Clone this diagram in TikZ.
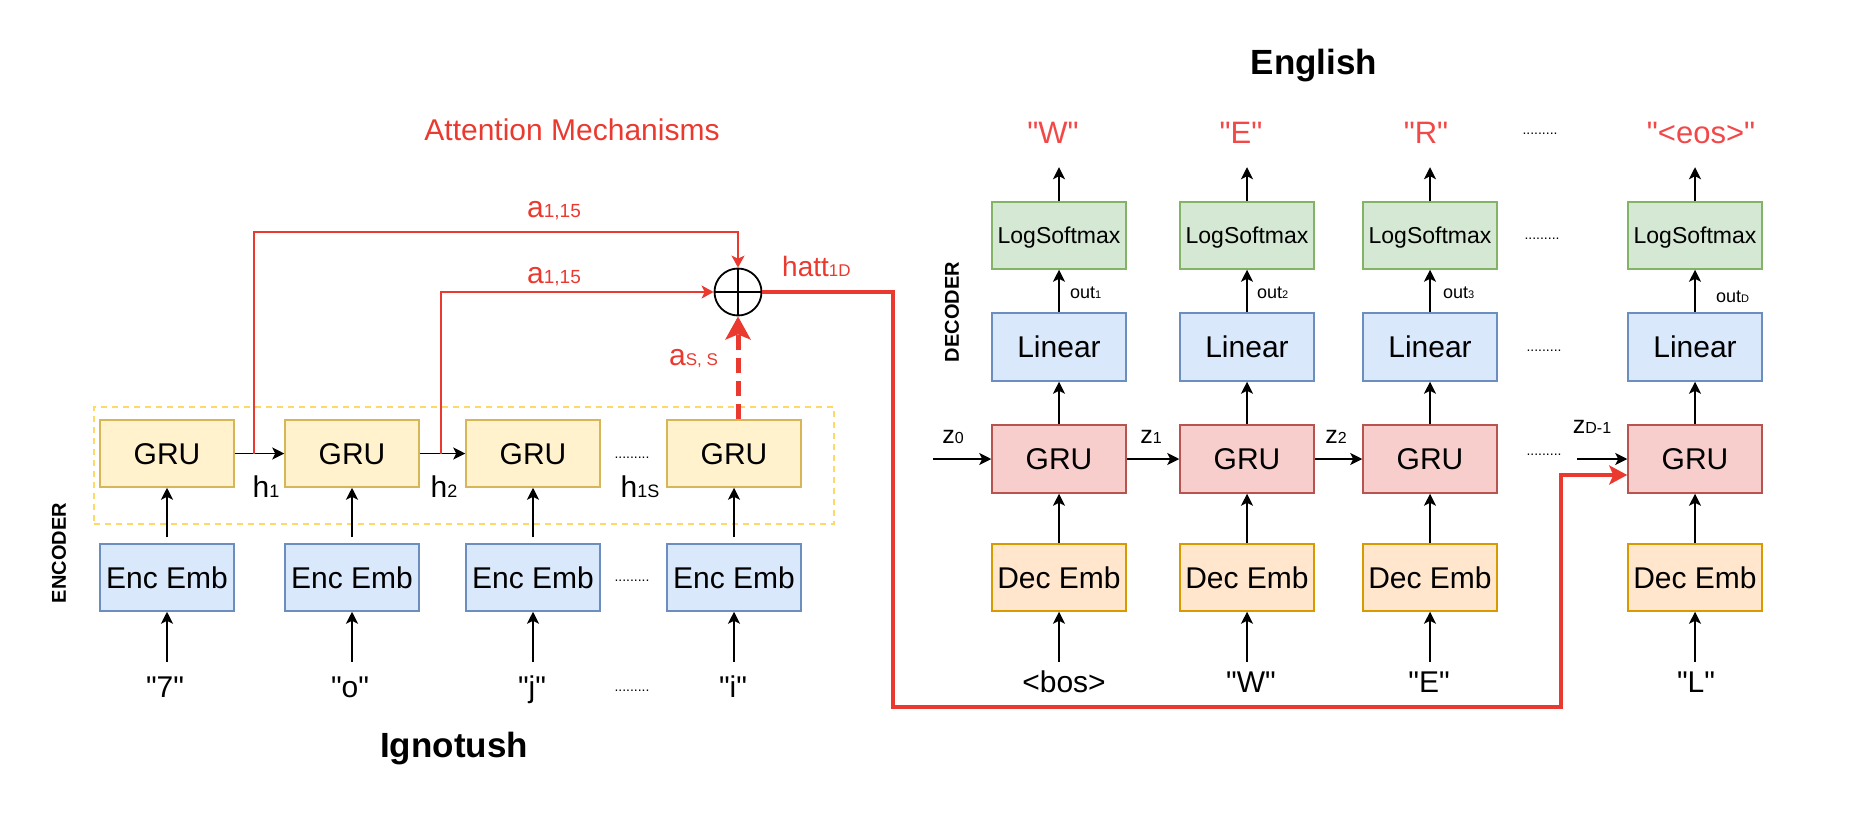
\documentclass[tikz,border=0pt]{standalone}
\usepackage{fontspec}
\setmainfont{Liberation Sans}
\usetikzlibrary{arrows.meta,calc}
\definecolor{encgf}{HTML}{FFF2CC}\definecolor{encgd}{HTML}{D6B656}
\definecolor{bluef}{HTML}{DAE8FC}\definecolor{blued}{HTML}{6C8EBF}
\definecolor{greenf}{HTML}{D5E8D4}\definecolor{greend}{HTML}{82B366}
\definecolor{redf}{HTML}{F8CECC}\definecolor{redd}{HTML}{B85450}
\definecolor{orf}{HTML}{FFE6CC}\definecolor{ord}{HTML}{D79B00}
\definecolor{attred}{HTML}{EA3A30}
\definecolor{txtred}{HTML}{F24848}
\definecolor{dashy}{HTML}{FFD966}
\newcommand{\fsz}[1]{\fontsize{#1}{#1}\selectfont}
\newcommand{\dq}{\textquotedbl}
\begin{document}
\begin{tikzpicture}[x=1pt,y=-1pt,
  box/.style={draw, line width=1.5pt, minimum width=134pt, minimum height=67pt, inner sep=0pt, font=\fsz{30}, text height=21.5pt, text depth=0pt},
  encgru/.style={box, fill=encgf, draw=encgd},
  emb/.style={box, fill=bluef, draw=blued},
  lsm/.style={box, fill=greenf, draw=greend, font=\fsz{23}, text height=16.5pt},
  lin/.style={box, fill=bluef, draw=blued, minimum height=68pt},
  decgru/.style={box, fill=redf, draw=redd, minimum height=68pt},
  demb/.style={box, fill=orf, draw=ord},
  arr/.style={-{Stealth[length=12pt,width=12pt,inset=3pt]}, line width=1.8pt, black},
  redthin/.style={-{Stealth[length=12pt,width=13pt,inset=3pt]}, line width=1.6pt, attred},
  redthick/.style={-{Stealth[length=18pt,width=19pt,inset=4pt]}, line width=3.5pt, attred},
  reddash/.style={-{Stealth[length=23pt,width=25pt,inset=5pt]}, line width=5pt, attred, dash pattern=on 15pt off 8pt},
  inlbl/.style={font=\fsz{30}, anchor=base, inner xsep=0pt, text height=22pt, text depth=0pt},
  outlbl/.style={font=\fsz{31}, anchor=base, inner xsep=0pt, inner ysep=24pt, text height=22pt, text depth=0pt, text=txtred},
  lbl/.style={font=\fsz{30}, inner sep=0pt},
  dotsl/.style={font=\fsz{14}, inner sep=0pt},
  side/.style={font=\bfseries\fsz{20}, rotate=90, inner sep=0pt},
  title/.style={font=\bfseries\fsz{35}, inner sep=0pt}
]
\useasboundingbox (0,0) rectangle (1868,828);

% ---------- titles ----------
\node[lbl, text=attred] (attn) at (572,130) {Attention Mechanisms};
\node[title] (eng) at (1314,66) {English};
\node[title] (ign) at (454,749) {Ignotush};
\node[side] (encl) at (59,553) {ENCODER};
\node[side] (decl) at (952,312) {DECODER};

% ---------- encoder ----------
\node[draw=dashy, line width=1.5pt, dash pattern=on 6pt off 5pt, minimum width=740pt, minimum height=117pt, inner sep=0pt] (encbox) at (463.75,465.5) {};

\foreach \i/\x in {1/167,2/352,3/533,4/734}{
  \node[encgru] (eg\i) at (\x,453.5) {GRU};
  \node[emb] (ee\i) at (\x,577.5) {Enc Emb};
}
\node[inlbl, inner ysep=13pt] (ei1) at (165,697) {\dq7\dq};
\node[inlbl, inner ysep=13pt] (ei2) at (350,697) {\dq o\dq};
\node[inlbl, inner ysep=13pt] (ei3) at (532,697) {\dq j\dq};
\node[inlbl, inner ysep=13pt] (ei4) at (733,697) {\dq i\dq};

\foreach \i in {1,2,3,4}{
  \draw[arr, shorten <=6pt] (ee\i.north) -- (eg\i.south);
  \draw[arr] (ee\i.south |- ei\i.north) -- (ee\i.south);
}
\draw[arr] (eg1.east) -- (eg2.west);
\draw[arr] (eg2.east) -- (eg3.west);

\node[dotsl] (ed1) at (632,458) {.........};
\node[dotsl] (ed2) at (632,581) {.........};
\node[dotsl] (ed3) at (632,691) {.........};

\node[lbl, anchor=base] (h1) at (266,497) {h{\fsz{18}1}};
\node[lbl, anchor=base] (h2) at (444,497) {h{\fsz{18}2}};
\node[lbl, anchor=base] (h3) at (640,497) {h{\fsz{18}1S}};

% ---------- attention ----------
\node[circle, draw, line width=1.8pt, minimum size=47pt, inner sep=0pt] (circ) at (738,292) {};
\draw[line width=1.6pt] (circ.north) -- (circ.south) (circ.west) -- (circ.east);

\coordinate (t1) at (254,454);
\coordinate (b1) at (254,232);
\coordinate (t2) at (441,454);
\draw[redthin] (t1) -- (b1) -| (circ.north);
\draw[redthin] (t2) |- (circ.west);
\draw[reddash] (eg4.north -| circ) -- (circ.south);

\node[lbl, anchor=base, text=attred] (a1) at (554,217) {a{\fsz{19}1,15}};
\node[lbl, anchor=base, text=attred] (a2) at (554,283) {a{\fsz{19}1,15}};
\node[lbl, anchor=base west, text=attred, font=\fsz{28}] (hatt) at (782,276) {hatt{\fsz{17}1D}};
\node[lbl, anchor=base west, text=attred] (ass) at (669,365) {a{\fsz{17}S, S}};

% ---------- decoder ----------
\foreach \i/\x in {1/1059,2/1247,3/1430,4/1695}{
  \node[lsm] (ls\i) at (\x,235.5) {LogSoftmax};
  \node[lin] (li\i) at (\x,347) {Linear};
  \node[decgru] (dg\i) at (\x,459) {GRU};
  \node[demb] (de\i) at (\x,577.5) {Dec Emb};
}
\node[outlbl] (o1) at (1053,143) {\dq W\dq};
\node[outlbl] (o2) at (1241,143) {\dq E\dq};
\node[outlbl] (o3) at (1426,143) {\dq R\dq};
\node[outlbl] (o4) at (1701,143) {\dq <eos>\dq};

\node[inlbl, inner ysep=8pt] (di1) at (1064,692) {<bos>};
\node[inlbl, inner ysep=8pt] (di2) at (1251,692) {\dq W\dq};
\node[inlbl, inner ysep=8pt] (di3) at (1429,692) {\dq E\dq};
\node[inlbl, inner ysep=8pt] (di4) at (1696,692) {\dq L\dq};

\foreach \i in {1,2,3,4}{
  \draw[arr] (ls\i.north) -- (ls\i.north |- o\i.south);
  \draw[arr] (li\i.north) -- (ls\i.south);
  \draw[arr] (dg\i.north) -- (li\i.south);
  \draw[arr] (de\i.north) -- (dg\i.south);
  \draw[arr] (de\i.south |- di\i.north) -- (de\i.south);
}
\coordinate (z0s) at (933,459);
\coordinate (zds) at (1577,459);
\draw[arr] (z0s) -- (dg1.west);
\draw[arr] (dg1.east) -- (dg2.west);
\draw[arr] (dg2.east) -- (dg3.west);
\draw[arr] (zds) -- (dg4.west);

\node[lbl, anchor=base, font=\fsz{25}] (z0) at (953,443) {z{\fsz{16}0}};
\node[lbl, anchor=base, font=\fsz{25}] (z1) at (1151,443) {z{\fsz{16}1}};
\node[lbl, anchor=base, font=\fsz{25}] (z2) at (1336,443) {z{\fsz{16}2}};
\node[lbl, anchor=base, font=\fsz{25}] (zd) at (1592,433) {z{\fsz{16}D-1}};

\node[lbl, anchor=base west, font=\fsz{18}] (ou1) at (1070,298) {out{\fsz{11}1}};
\node[lbl, anchor=base west, font=\fsz{18}] (ou2) at (1257,298) {out{\fsz{11}2}};
\node[lbl, anchor=base west, font=\fsz{18}] (ou3) at (1443,298) {out{\fsz{11}3}};
\node[lbl, anchor=base west, font=\fsz{18}] (ou4) at (1716,302) {out{\fsz{11}D}};

\node[dotsl] (dd1) at (1540,134) {.........};
\node[dotsl] (dd2) at (1542,239) {.........};
\node[dotsl] (dd3) at (1544,351) {.........};
\node[dotsl] (dd4) at (1544,455) {.........};

% ---------- context vector path ----------
\coordinate (r1) at (893,707);
\coordinate (r2) at (1561,707);
\draw[redthick] (circ.east) -| (r1) -- (r2) |- ([yshift=-16pt]dg4.west);
\end{tikzpicture}
\end{document}
